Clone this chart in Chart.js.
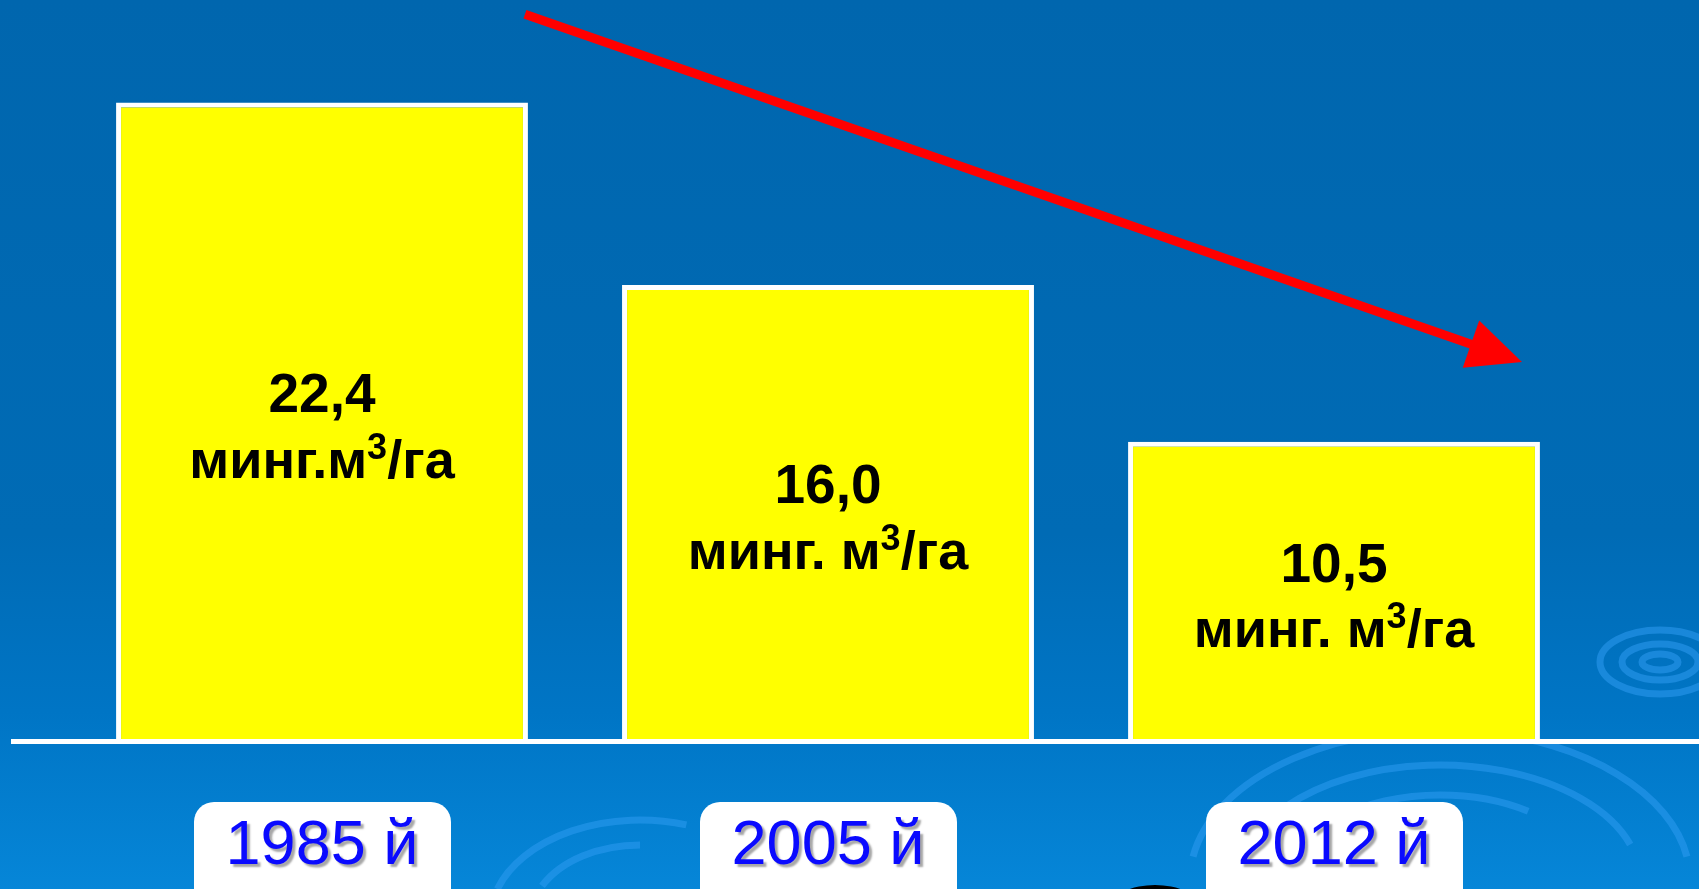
<!DOCTYPE html>
<html>
<head>
<meta charset="utf-8">
<script src="https://cdn.jsdelivr.net/npm/chart.js@4.4.0/dist/chart.umd.min.js"></script>
<style>
  html, body { margin: 0; padding: 0; overflow: hidden; background: #0068b0; }
  .wrap { position: relative; width: 1699px; height: 889px; }
</style>
</head>
<body>
<div class="wrap"><canvas id="graph"></canvas></div>
<script>
// data
const years = ['1985 й', '2005 й', '2012 й'];
const waterUse = [22.4, 16.0, 10.5];
const units = ['минг.м', 'минг. м', 'минг. м'];
const yMax = 26;
// trend arrow, in value units
const trendFrom = 25.5;
const trendTo = 13.3;

const graph = document.getElementById('graph');

// background gradient + ripples
const backdrop = {
  id: 'backdrop',
  beforeDraw(chart) {
    const ctx = chart.ctx;
    const w = chart.width, h = chart.height;
    const g = ctx.createLinearGradient(0, 0, 0, h);
    g.addColorStop(0, '#0066ae');
    g.addColorStop(0.6, '#006bb5');
    g.addColorStop(0.8, '#0075c5');
    g.addColorStop(1, '#0686d8');
    ctx.save();
    ctx.fillStyle = g;
    ctx.fillRect(0, 0, w, h);

    ctx.strokeStyle = 'rgba(45,155,240,0.55)';
    ctx.lineWidth = 7;
    const ring = (cx, cy, rx, ry, a0, a1) => {
      ctx.beginPath();
      ctx.ellipse(cx, cy, rx, ry, 0, a0, a1);
      ctx.stroke();
    };
    // big ripple bottom right
    ring(1440, 880, 250, 150, Math.PI * 1.05, Math.PI * 1.95);
    ring(1440, 880, 200, 115, Math.PI * 1.1, Math.PI * 1.9);
    ring(1440, 880, 150, 85, Math.PI * 1.0, Math.PI * 1.7);
    // small ripple right
    ring(1660, 662, 60, 32, 0, Math.PI * 2);
    ring(1660, 662, 38, 18, 0, Math.PI * 2);
    ring(1660, 662, 18, 8, 0, Math.PI * 2);
    // left ripple
    ring(640, 920, 150, 100, Math.PI * 1.1, Math.PI * 1.6);
    ring(640, 920, 110, 75, Math.PI * 1.15, Math.PI * 1.5);
    // dark shape at bottom
    ctx.fillStyle = '#000';
    ctx.beginPath();
    ctx.ellipse(1155, 905, 42, 20, 0, 0, Math.PI * 2);
    ctx.fill();
    ctx.restore();
  }
};

// baseline, value labels, year tags, trend arrow
const decor = {
  id: 'decor',
  afterDatasetsDraw(chart) {
    const ctx = chart.ctx;
    const bars = chart.getDatasetMeta(0).data;
    const y = chart.scales.y;
    const x = chart.scales.x;
    const base = y.getPixelForValue(0);

    ctx.save();
    // baseline
    ctx.fillStyle = '#fff';
    ctx.fillRect(11, base - 2, chart.width - 11, 5);

    // labels inside bars
    ctx.fillStyle = '#000';
    ctx.textBaseline = 'middle';
    bars.forEach((bar, i) => {
      const cy = (bar.y + bar.base) / 2 + 5;
      ctx.font = 'bold 55px "Liberation Sans", Arial, sans-serif';
      ctx.textAlign = 'center';
      ctx.fillText(waterUse[i].toFixed(1).replace('.', ','), bar.x, cy - 30);

      ctx.font = 'bold 54px "Liberation Sans", Arial, sans-serif';
      const a = units[i], b = '/га';
      const wa = ctx.measureText(a).width, wb = ctx.measureText(b).width;
      ctx.font = 'bold 36px "Liberation Sans", Arial, sans-serif';
      const ws = ctx.measureText('3').width;
      let sx = bar.x - (wa + ws + wb) / 2;
      ctx.textAlign = 'left';
      ctx.font = 'bold 54px "Liberation Sans", Arial, sans-serif';
      ctx.fillText(a, sx, cy + 36);
      ctx.font = 'bold 36px "Liberation Sans", Arial, sans-serif';
      ctx.fillText('3', sx + wa, cy + 22);
      ctx.font = 'bold 54px "Liberation Sans", Arial, sans-serif';
      ctx.fillText(b, sx + wa + ws, cy + 36);
    });

    // year tags
    years.forEach((yr, i) => {
      const cx = x.getPixelForTick(i);
      ctx.fillStyle = '#fff';
      ctx.beginPath();
      ctx.roundRect(cx - 128, 802, 257, 110, 20);
      ctx.fill();
      ctx.save();
      ctx.shadowColor = 'rgba(0,0,0,0.35)';
      ctx.shadowOffsetX = 3;
      ctx.shadowOffsetY = 3;
      ctx.shadowBlur = 2;
      ctx.fillStyle = '#0a0aff';
      ctx.font = '63px "Liberation Sans", Arial, sans-serif';
      ctx.textAlign = 'center';
      ctx.textBaseline = 'alphabetic';
      ctx.fillText(yr, cx, 864);
      ctx.restore();
    });

    // trend arrow
    const x0 = bars[0].x + bars[0].width / 2 - 3;
    const y0 = y.getPixelForValue(trendFrom);
    const x1 = bars[2].x + bars[2].width / 2 - 18;
    const y1 = y.getPixelForValue(trendTo);
    const ang = Math.atan2(y1 - y0, x1 - x0);
    const headLen = 54, headHalf = 25;
    const bx = x1 - headLen * Math.cos(ang), by = y1 - headLen * Math.sin(ang);
    ctx.strokeStyle = '#ff0000';
    ctx.fillStyle = '#ff0000';
    ctx.lineWidth = 9;
    ctx.beginPath();
    ctx.moveTo(x0, y0);
    ctx.lineTo(bx + 4 * Math.cos(ang), by + 4 * Math.sin(ang));
    ctx.stroke();
    ctx.beginPath();
    ctx.moveTo(x1, y1);
    ctx.lineTo(bx + headHalf * Math.sin(ang), by - headHalf * Math.cos(ang));
    ctx.lineTo(bx - headHalf * Math.sin(ang), by + headHalf * Math.cos(ang));
    ctx.closePath();
    ctx.fill();
    ctx.restore();
  }
};

new Chart(graph, {
  type: 'bar',
  data: {
    labels: years,
    datasets: [{
      label: 'минг. м³/га',
      data: waterUse,
      backgroundColor: '#ffff00',
      borderColor: '#ffffff',
      borderWidth: 5,
      borderSkipped: 'start',
      barPercentage: 0.814,
      categoryPercentage: 1
    }]
  },
  options: {
    responsive: true,
    maintainAspectRatio: false,
    animation: false,
    layout: { padding: { left: 69, right: 112, top: 0, bottom: 148 } },
    plugins: {
      legend: { display: false },
      tooltip: { enabled: false }
    },
    scales: {
      x: { display: false },
      y: { display: false, min: 0, max: yMax }
    }
  },
  plugins: [backdrop, decor]
});
</script>
</body>
</html>
